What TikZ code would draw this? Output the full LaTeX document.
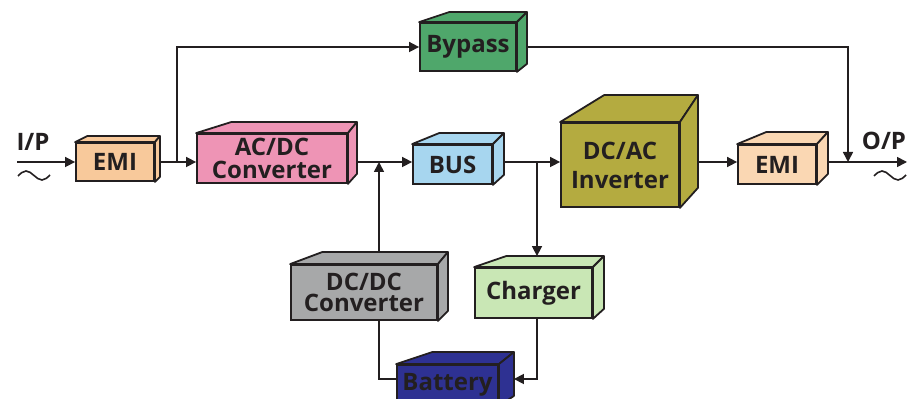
\documentclass[tikz,border=0pt]{standalone}
\usepackage{fontspec}
\setmainfont{Open Sans}
\usetikzlibrary{positioning}
\usetikzlibrary{backgrounds}
\usetikzlibrary{calc}
\usetikzlibrary{arrows.meta}

\definecolor{ink}{HTML}{231F20}
\definecolor{emicol}{HTML}{F8C99B}
\definecolor{emiocol}{HTML}{FAD7B3}
\definecolor{acdccol}{HTML}{EE94B5}
\definecolor{buscol}{HTML}{A7D6EF}
\definecolor{dcaccol}{HTML}{B4AB40}
\definecolor{bypasscol}{HTML}{4FA76B}
\definecolor{dcdccol}{HTML}{A7A8A9}
\definecolor{chargercol}{HTML}{C9E7B5}
\definecolor{batterycol}{HTML}{2E3192}

\tikzset{
	block/.style = {draw = ink, line width = 0.9pt, fill = #1, rectangle, inner sep = 0pt, align = center, text = ink, font = \fontsize{12}{11.5}\selectfont\bfseries},
	face/.style = {draw = ink, line width = 0.9pt, line join = round},
	conn/.style = {ink, line width = 0.8pt, -{Triangle[length = 5pt, width = 5pt]}},
	wire/.style = {ink, line width = 0.8pt},
	tag/.style = {text = ink, font = \fontsize{12}{12}\selectfont\bfseries},
}

\newcommand{\blockfaces}[6]{%
	\filldraw[face, fill = #2] (#1.north west) -- ++(#3,-#5) -- ($(#1.north east) + (#4,-#5)$) -- (#1.north east) -- cycle;
	\filldraw[face, fill = #2] (#1.north east) -- ++(#4,-#5) -- ($(#1.south east) + (#4,-#6)$) -- (#1.south east) -- cycle;
}

\begin{document}
\begin{tikzpicture}[x = 0.5pt, y = -0.5pt]
		\useasboundingbox (0,0) rectangle (919,399);

		\node[block = emicol, minimum width = 39pt, minimum height = 19pt] at (115,162) (emii) {EMI};
		\node[block = acdccol, minimum width = 75pt, minimum height = 24.5pt] at (272,158.5) (acdc) {AC/DC\\Converter};
		\node[block = buscol, minimum width = 39.5pt, minimum height = 19.5pt] at (452.5,164.5) (bus) {BUS};
		\node[block = dcaccol, minimum width = 59pt, minimum height = 42pt] at (620,165) (dcac) {DC/AC\\[3pt]Inverter};
		\node[block = emiocol, minimum width = 39pt, minimum height = 19.5pt] at (777,164.5) (emio) {EMI};
		\node[block = bypasscol, minimum width = 48pt, minimum height = 24pt] at (468,47) (bypass) {Bypass};
		\node[block = dcdccol, minimum width = 73pt, minimum height = 27.5pt] at (364,292.5) (dcdc) {DC/DC\\[-1pt]Converter};
		\node[block = chargercol, minimum width = 58.5pt, minimum height = 25pt] at (533.5,293) (charger) {Charger};
		\node[block = batterycol, minimum width = 50.5pt, minimum height = 20pt] at (447.5,385) (battery) {Battery};

		\blockfaces{emii}{emicol}{12}{5}{6}{5}
		\blockfaces{acdc}{acdccol}{35}{9}{11}{10}
		\blockfaces{bus}{buscol}{27}{11}{11}{10}
		\blockfaces{dcac}{dcaccol}{44}{18}{27}{20}
		\blockfaces{emio}{emiocol}{29}{11}{12}{11}
		\blockfaces{bypass}{bypasscol}{30}{10}{10}{8}
		\blockfaces{dcdc}{dcdccol}{32}{10}{12}{10}
		\blockfaces{charger}{chargercol}{32}{11}{11}{10}
		\blockfaces{battery}{batterycol}{36}{15}{12}{10}

		\node[tag] at (33,142) (iplabel) {I/P};
		\node[tag] at (884,141) (oplabel) {O/P};

		\coordinate (ip) at (17,162);
		\coordinate (op) at (907,162);
		\coordinate (tapin) at (177,162);
		\coordinate (tapout) at (848,162);
		\coordinate (tapdc) at (379,162);
		\coordinate (tapch) at (537,162);

		\begin{scope}[on background layer]
			\draw[conn] (ip) -- (emii.west |- ip);
			\draw[conn] (emii.east |- ip) -- (acdc.west |- ip);
			\draw[conn] (acdc.east |- ip) -- (bus.west |- ip);
			\draw[conn] (bus.east |- ip) -- (dcac.west |- ip);
			\draw[conn] (dcac.east |- ip) -- (emio.west |- ip);
			\draw[conn] (emio.east |- ip) -- (op);
			\draw[conn] (tapin) |- (bypass.west);
			\draw[conn] (bypass.east) -| (tapout);
			\draw[conn] (dcdc.north -| tapdc) -- (tapdc);
			\draw[conn] (tapch) -- ($(charger.north -| tapch) + (0,-11)$);
			\draw[conn] (charger.south -| tapch) |- ($(battery.east) + (15,-6)$);
			\draw[wire] (dcdc.south -| tapdc) |- ($(battery.west) + (0,-6)$);

			\draw[wire] (18,176) sin (26,171) cos (34,175.5) sin (42,180) cos (50,175);
			\draw[wire] (874,176) sin (882,171) cos (890,175.5) sin (898,180) cos (906,175);
		\end{scope}
	\end{tikzpicture}
\end{document}
